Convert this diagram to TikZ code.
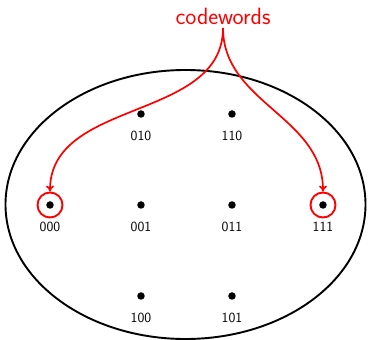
\documentclass[tikz,border=0pt]{standalone}
\usetikzlibrary{arrows.meta,shapes.geometric}
\renewcommand{\familydefault}{\sfdefault}
\begin{document}
\begin{tikzpicture}[x=1pt,y=-1pt,
  dot/.style={circle,fill=black,inner sep=0pt,minimum size=7.5pt},
  lbl/.style={font=\sffamily\fontsize{14}{15}\selectfont,inner sep=0pt},
  ring/.style={circle,draw=red,line width=1.9pt,minimum size=25pt,inner sep=0pt},
  cw/.style={draw=red,line width=1.7pt,-{To[length=6pt,width=8pt]}}]
\useasboundingbox (0,0) rectangle (368,340);
\node[draw,line width=1.9pt,ellipse,minimum width=360pt,minimum height=269pt,inner sep=0pt] (E) at (185.5,204.5) {};
\foreach \n/\x/\y in {010/141/114,110/232/114,000/50/205,001/141/205,011/232/205,111/323/205,100/141/296,101/232/296}{
  \node[dot] (d\n) at (\x,\y) {};
  \node[lbl] (l\n) at (\x,\y+22) {\n};
}
\node[ring] (r000) at (d000) {};
\node[ring] (r111) at (d111) {};
\node[text=red,font=\sffamily\fontsize{23.5}{25}\selectfont,inner sep=0pt] (cwl) at (223,16) {codewords};
\coordinate (s) at (223,28);
\draw[cw] (s) to[out=-90,in=90] (r000.north);
\draw[cw] (s) to[out=-90,in=90] (r111.north);
\end{tikzpicture}
\end{document}
